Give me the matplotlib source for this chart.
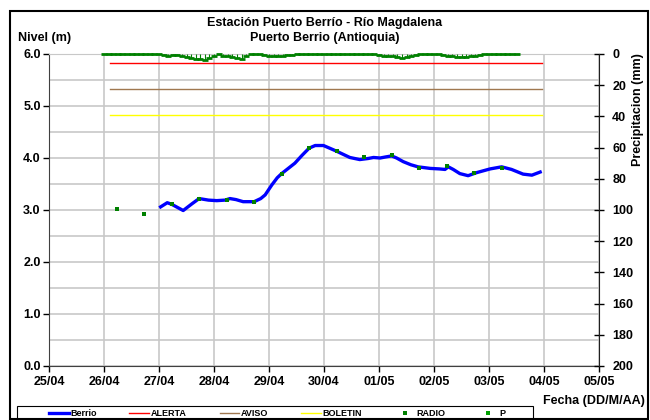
import numpy as np
import matplotlib
matplotlib.use("Agg")
import matplotlib.pyplot as plt
from matplotlib.lines import Line2D
from matplotlib.patches import Rectangle

plt.rcParams['font.family'] = ['Liberation Sans', 'DejaVu Sans']
plt.rcParams['font.weight'] = 'bold'

# x axis: days since 25/04
day_labels = ['25/04', '26/04', '27/04', '28/04', '29/04', '30/04',
              '01/05', '02/05', '03/05', '04/05', '05/05']

# Berrio water level (m)
berrio_x = [2.03, 2.15, 2.23, 2.44, 2.60, 2.73, 2.90, 3.05, 3.20, 3.29, 3.40,
            3.53, 3.73, 3.85, 3.93, 4.05, 4.15, 4.23, 4.35, 4.47, 4.60, 4.73,
            4.84, 4.99, 5.10, 5.23, 5.35, 5.47, 5.65, 5.80, 5.90, 6.02, 6.12,
            6.23, 6.32, 6.44, 6.58, 6.71, 6.93, 7.10, 7.20, 7.26, 7.35, 7.47,
            7.62, 7.78, 8.02, 8.23, 8.41, 8.62, 8.78, 8.93]
berrio_y = [3.06, 3.14, 3.11, 2.99, 3.12, 3.22, 3.19, 3.18, 3.19, 3.22, 3.20,
            3.16, 3.16, 3.22, 3.29, 3.48, 3.62, 3.70, 3.80, 3.90, 4.05, 4.19,
            4.24, 4.24, 4.19, 4.13, 4.07, 4.01, 3.97, 3.99, 4.01, 4.00, 4.02,
            4.04, 4.00, 3.93, 3.87, 3.83, 3.80, 3.79, 3.78, 3.83, 3.78, 3.70,
            3.66, 3.72, 3.79, 3.83, 3.78, 3.69, 3.67, 3.73]

# RADIO readings (m)
radio_x = [1.24, 1.73, 2.23, 2.73, 3.24, 3.73, 4.23, 4.73, 5.23, 5.73,
           6.23, 6.73, 7.24, 7.73, 8.24]
radio_y = [3.01, 2.93, 3.11, 3.22, 3.20, 3.16, 3.70, 4.19, 4.13, 4.01,
           4.05, 3.81, 3.85, 3.71, 3.81]

# threshold levels (m)
limits_x = [1.10, 8.96]
alerta = [5.82, 5.82]
aviso = [5.32, 5.32]
boletin = [4.83, 4.83]

# precipitation P (mm), every 2 hours from 26/04 00:00
p_start = 1.0
p_step = 1.0 / 12
p_vals = [0, 0, 0, 0, 0, 0, 0, 0, 0, 0, 0, 0,
          0, 0.5, 1.0, 0.5, 0.8, 1.5, 2.0, 2.5, 3.0, 3.3, 3.6, 2.5,
          1.0, 0.3, 1.0, 1.5, 2.0, 2.5, 3.0, 1.5, 0, 0, 0, 0.5,
          1.0, 1.0, 1.2, 1.0, 0.8, 0.5, 0, 0, 0, 0, 0, 0,
          0, 0, 0, 0, 0, 0, 0, 0, 0, 0, 0, 0,
          0.5, 1.0, 1.0, 1.5, 2.0, 2.5, 2.0, 1.0, 0.5, 0, 0, 0,
          0, 0, 0.5, 1.0, 1.5, 2.0, 2.2, 2.0, 1.5, 1.0, 0.5, 0,
          0, 0, 0, 0, 0, 0, 0]
p_x = [p_start + i * p_step for i in range(len(p_vals))]

grid_c = '#c8c8c8'

fig = plt.figure(figsize=(6.5, 4.2), dpi=100)
ax = fig.add_axes([49 / 650, 1 - 366 / 420, 550 / 650, 312 / 420])
ax2 = ax.twinx()

ax.plot(limits_x, alerta, color='#ff0000', lw=1.0)
ax.plot(limits_x, aviso, color='#a07850', lw=1.0)
ax.plot(limits_x, boletin, color='#ffff00', lw=1.0)
ax.plot(berrio_x, berrio_y, color='#0000ff', lw=2.4, zorder=3)
ax.plot(radio_x, radio_y, ls='none', marker='s', ms=2.8, color='#008000',
        markeredgewidth=0, zorder=4)

# P markers as short dashes, as in the source chart
ax2.plot(p_x, p_vals, ls='none', marker='_', ms=4.2, mew=2.0,
         color='#008000', clip_on=False)
ax2.vlines(p_x, 0, p_vals, color='#008000', lw=0.8)

ax.set_xlim(0, 10)
ax.set_ylim(0, 6)
ax.set_xticks(range(11))
ax.set_xticklabels(day_labels)
ax.set_yticks(np.arange(0, 7, 1.0))
ax.set_yticklabels(['%.1f' % v for v in range(7)])
ax.set_yticks(np.arange(0.5, 6, 1.0), minor=True)
ax.grid(True, which='both', color=grid_c, lw=1.2)
ax.set_axisbelow(True)
ax.tick_params(axis='both', which='major', labelsize=9, direction='out',
               length=4, width=1, pad=2)
ax.tick_params(axis='y', which='minor', length=0)
ax.tick_params(axis='x', pad=3)
ax.spines['top'].set_color(grid_c)
ax.spines['right'].set_visible(False)
for s in ['left', 'bottom']:
    ax.spines[s].set_color('#404040')

ax2.set_ylim(200, 0)
ax2.set_yticks(range(0, 201, 20))
ax2.tick_params(axis='y', labelsize=9, direction='inout', length=7, width=1,
                pad=6)
ax2.spines['right'].set_color('#202020')
for s in ['top', 'left', 'bottom']:
    ax2.spines[s].set_visible(False)

fig.text(325 / 650, 1 - 23 / 420, 'Estación Puerto Berrío - Río Magdalena',
         ha='center', va='center', fontsize=9, fontweight='bold')
fig.text(325 / 650, 1 - 38 / 420, 'Puerto Berrio (Antioquia)',
         ha='center', va='center', fontsize=9, fontweight='bold')
fig.text(18 / 650, 1 - 38 / 420, 'Nivel (m)', ha='left', va='center',
         fontsize=9, fontweight='bold')
fig.text(645 / 650, 1 - 401 / 420, 'Fecha (DD/M/AA)', ha='right', va='center',
         fontsize=9, fontweight='bold')
fig.text(638 / 650, 1 - 110 / 420, 'Precipitacion (mm)', ha='center',
         va='center', rotation=90, fontsize=9, fontweight='bold')

handles = [
    Line2D([], [], color='#0000ff', lw=2.4),
    Line2D([], [], color='#ff0000', lw=1.0),
    Line2D([], [], color='#a07850', lw=1.0),
    Line2D([], [], color='#ffff00', lw=1.0),
    Line2D([], [], ls='none', marker='s', ms=2.2, mew=0, color='#008000'),
    Line2D([], [], ls='none', marker='s', ms=2.2, mew=0, color='#00a000'),
]
names = ['Berrio', 'ALERTA', 'AVISO', 'BOLETIN', 'RADIO', 'P']
leg = fig.legend(handles, names, loc='lower left', ncol=6, mode='expand',
                 bbox_to_anchor=(46 / 650, 1 - 421 / 420, 462 / 650, 14 / 420),
                 prop={'size': 6.5, 'weight': 'bold'}, frameon=False,
                 handlelength=2.2, handletextpad=0.15,
                 borderpad=0.3, borderaxespad=0)

fig.patches.append(Rectangle((17 / 650, -2 / 420), 516 / 650, 16 / 420,
                             transform=fig.transFigure, fill=False,
                             edgecolor='black', lw=0.8))
fig.patches.append(Rectangle((10 / 650, 1 / 420), 638 / 650, 408 / 420,
                             transform=fig.transFigure, fill=False,
                             edgecolor='black', lw=1.5))

fig.savefig('out.png', dpi=100)
